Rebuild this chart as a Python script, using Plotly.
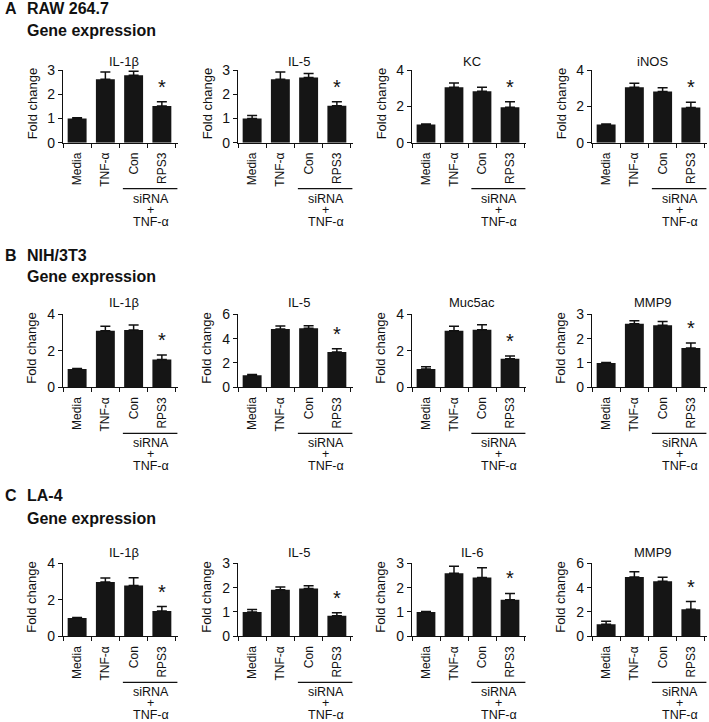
import plotly.graph_objects as go

# ---- data ----
categories = ["Media", "TNF-α", "Con", "RPS3"]

row_labels = ["A", "B", "C"]
row_cells = ["RAW 264.7", "NIH/3T3", "LA-4"]

genes_a = ["IL-1β", "IL-5", "KC", "iNOS"]
genes_b = ["IL-1β", "IL-5", "Muc5ac", "MMP9"]
genes_c = ["IL-1β", "IL-5", "IL-6", "MMP9"]

# row A (RAW 264.7)
a_il1b = [1.0, 2.62, 2.78, 1.51]
a_il1b_err = [0.03, 0.30, 0.17, 0.18]
a_il5 = [1.0, 2.62, 2.69, 1.52]
a_il5_err = [0.12, 0.30, 0.17, 0.17]
a_kc = [1.0, 3.05, 2.83, 1.95]
a_kc_err = [0.03, 0.24, 0.22, 0.30]
a_inos = [1.0, 3.05, 2.82, 1.93]
a_inos_err = [0.03, 0.22, 0.21, 0.30]

# row B (NIH/3T3)
b_il1b = [1.0, 3.10, 3.14, 1.52]
b_il1b_err = [0.03, 0.25, 0.27, 0.25]
b_il5 = [1.0, 4.79, 4.85, 2.91]
b_il5_err = [0.05, 0.25, 0.20, 0.26]
b_muc5ac = [1.0, 3.10, 3.16, 1.56]
b_muc5ac_err = [0.12, 0.24, 0.27, 0.15]
b_mmp9 = [1.0, 2.61, 2.55, 1.62]
b_mmp9_err = [0.02, 0.13, 0.15, 0.20]

# row C (LA-4)
c_il1b = [1.0, 2.97, 2.79, 1.38]
c_il1b_err = [0.03, 0.22, 0.42, 0.25]
c_il5 = [1.0, 1.91, 1.96, 0.84]
c_il5_err = [0.10, 0.12, 0.12, 0.13]
c_il6 = [1.0, 2.59, 2.42, 1.50]
c_il6_err = [0.02, 0.29, 0.40, 0.26]
c_mmp9 = [1.0, 4.87, 4.53, 2.23]
c_mmp9_err = [0.24, 0.44, 0.33, 0.63]

ymax_a = [3, 3, 4, 4]
ymax_b = [4, 6, 4, 3]
ymax_c = [4, 3, 3, 6]
dtick_a = [1, 1, 2, 2]
dtick_b = [2, 2, 2, 1]
dtick_c = [2, 1, 1, 2]

rows = [
    (genes_a, [(a_il1b, a_il1b_err), (a_il5, a_il5_err), (a_kc, a_kc_err), (a_inos, a_inos_err)], ymax_a, dtick_a),
    (genes_b, [(b_il1b, b_il1b_err), (b_il5, b_il5_err), (b_muc5ac, b_muc5ac_err), (b_mmp9, b_mmp9_err)], ymax_b, dtick_b),
    (genes_c, [(c_il1b, c_il1b_err), (c_il5, c_il5_err), (c_il6, c_il6_err), (c_mmp9, c_mmp9_err)], ymax_c, dtick_c),
]

# ---- layout geometry (pixels) ----
W, H = 709, 722
col_px = [(63, 178), (238, 353), (412, 526), (592, 707)]
row_px = [(70, 142.7), (314.3, 387.3), (563.3, 636.3)]  # (top, zero)
head_px = [(8.5, 30.5), (255, 276.5), (495, 518)]
title_px = [61.5, 302, 552.5]

FONT = "Liberation Sans, Arial, sans-serif"
BAR = "#151515"


def px_x(v):
    return v / W


def px_y(v):
    return 1 - v / H


fig = go.Figure()
annotations = []
shapes = []

n = 0
for r, (genes, series, ymaxes, dticks) in enumerate(rows):
    top, zero = row_px[r]
    for c in range(4):
        n += 1
        xa = "x" if n == 1 else f"x{n}"
        ya = "y" if n == 1 else f"y{n}"
        means, errs = series[c]
        fig.add_trace(go.Bar(
            x=categories, y=means, xaxis=xa, yaxis=ya,
            width=0.67, marker=dict(color=BAR, line=dict(width=0)),
            error_y=dict(type="data", array=errs, arrayminus=[0] * 4,
                         symmetric=False, color="#111", thickness=1.5, width=5),
            showlegend=False,
        ))
        x0, x1 = col_px[c]
        fig.layout[f"xaxis{n}" if n > 1 else "xaxis"] = dict(
            domain=[px_x(x0), px_x(x1)], anchor=ya, type="category",
            tickson="boundaries", ticks="outside", ticklen=4, tickwidth=1.2,
            tickcolor="#111", showline=True, linecolor="#111", linewidth=1.2,
            tickangle=-90, ticklabelstandoff=4,
            tickfont=dict(family=FONT, size=12, color="#111"),
            showgrid=False, fixedrange=True, automargin=False,
        )
        fig.layout[f"yaxis{n}" if n > 1 else "yaxis"] = dict(
            domain=[px_y(zero), px_y(top)], anchor=xa,
            range=[0, ymaxes[c]], dtick=dticks[c], ticks="outside", ticklen=4,
            tickwidth=1.2, tickcolor="#111", showline=True, linecolor="#111",
            linewidth=1.2, tickfont=dict(family=FONT, size=14, color="#111"),
            showgrid=False, zeroline=False, fixedrange=True, automargin=False,
        )
        # panel title
        annotations.append(dict(
            text=genes[c], xref="paper", yref="paper",
            x=px_x((x0 + x1) / 2 + 3), y=px_y(title_px[r]),
            xanchor="center", yanchor="middle", showarrow=False,
            font=dict(family=FONT, size=13, color="#111"),
        ))
        # y-axis title
        annotations.append(dict(
            text="Fold change", xref="paper", yref="paper",
            x=px_x(x0 - 31), y=px_y((top + zero) / 2 - 3), textangle=-90,
            xanchor="center", yanchor="middle", showarrow=False,
            font=dict(family=FONT, size=13, color="#111"),
        ))
        # significance asterisk
        annotations.append(dict(
            text="*", xref=xa, yref=ya, x="RPS3", y=means[3] + errs[3],
            xanchor="center", yanchor="bottom", yshift=2, showarrow=False,
            font=dict(family=FONT, size=20, color="#111"),
        ))
        # siRNA bracket line and label
        shapes.append(dict(
            type="line", xref=xa, yref="paper", x0=1.62, x1=3.55,
            y0=px_y(zero + 46), y1=px_y(zero + 46),
            line=dict(color="#111", width=1.2),
        ))
        for txt, off in [("siRNA", 56), ("+", 67), ("TNF-α", 79)]:
            annotations.append(dict(
                text=txt, xref=xa, yref="paper", x=2.6, y=px_y(zero + off),
                xanchor="center", yanchor="middle", showarrow=False,
                font=dict(family=FONT, size=12.5, color="#111"),
            ))

    # row headers
    l1, l2 = head_px[r]
    annotations.append(dict(
        text=f"<b>{row_labels[r]}</b>", xref="paper", yref="paper",
        x=px_x(3), y=px_y(l1), xanchor="left", yanchor="middle",
        showarrow=False, font=dict(family=FONT, size=16, color="#111"),
    ))
    annotations.append(dict(
        text=f"<b>{row_cells[r]}</b>", xref="paper", yref="paper",
        x=px_x(25), y=px_y(l1), xanchor="left", yanchor="middle",
        showarrow=False, font=dict(family=FONT, size=16, color="#111"),
    ))
    annotations.append(dict(
        text="<b>Gene expression</b>", xref="paper", yref="paper",
        x=px_x(25), y=px_y(l2), xanchor="left", yanchor="middle",
        showarrow=False, font=dict(family=FONT, size=16, color="#111"),
    ))

fig.update_layout(
    width=W, height=H,
    margin=dict(l=0, r=0, t=0, b=0, autoexpand=False),
    paper_bgcolor="white", plot_bgcolor="white",
    bargap=0.3,
    annotations=annotations,
    shapes=shapes,
    font=dict(family=FONT, color="#111"),
)

# drop the default page margin so the 709x722 figure fills the window
fig.write_html("out.html", config={"displayModeBar": False},
               post_script="document.body.style.margin='0';document.body.style.overflow='hidden';")
